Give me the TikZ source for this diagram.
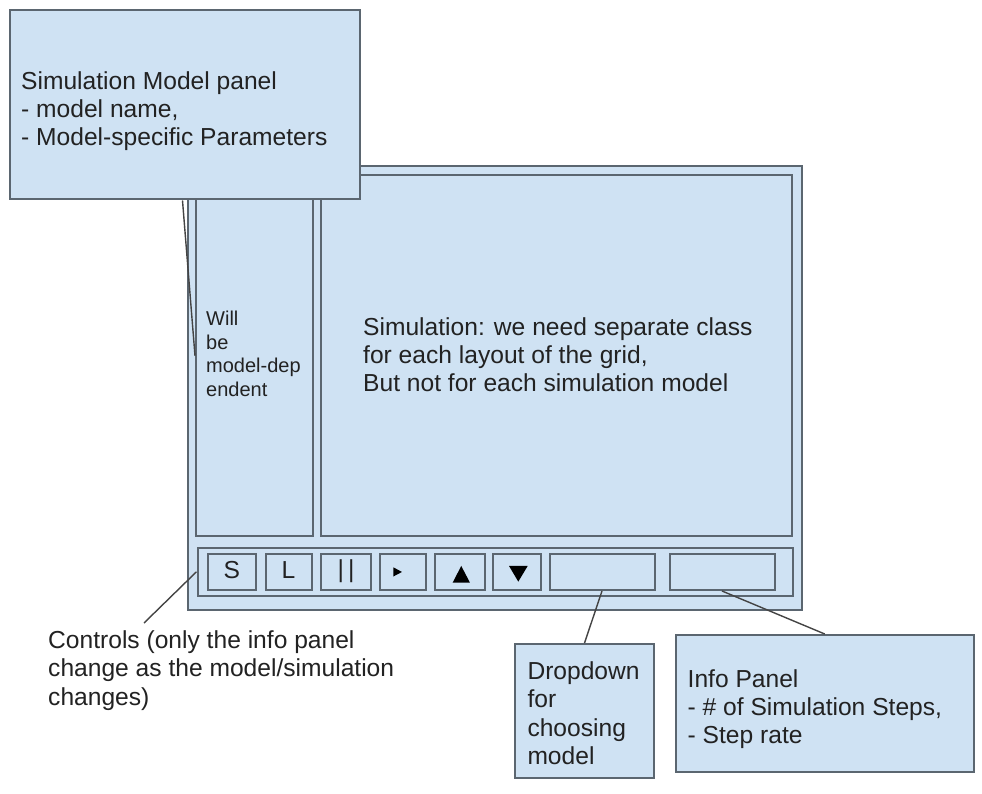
\documentclass[tikz,border=0pt]{standalone}
\usepackage{fontspec}
\setmainfont{Liberation Sans}
\definecolor{boxfill}{HTML}{CFE2F3}
\definecolor{boxline}{HTML}{5B6670}
\definecolor{txt}{HTML}{222222}
\definecolor{connline}{HTML}{444444}
\begin{document}
\begin{tikzpicture}[x=1pt,y=-1pt,
  panel/.style={draw=boxline, fill=boxfill, line width=2pt, inner sep=0pt, anchor=north west},
  conn/.style={draw=connline, line width=1.4pt},
  lbl/.style={anchor=north west, inner sep=0pt, align=left, text=txt, font=\fontsize{24.6}{28.3}\selectfont},
  smalllbl/.style={anchor=north west, inner sep=0pt, align=left, text=txt, font=\fontsize{20}{23.6}\selectfont},
  btnlbl/.style={inner sep=0pt, text=txt, font=\fontsize{24.6}{28.3}\selectfont},
  glyph/.style={fill=black}
]
\useasboundingbox (0,0) rectangle (982,794);
\fill[white] (0,0) rectangle (982,794);

% main window
\node[panel, minimum width=614.5pt, minimum height=444pt] (frame) at (186.5,165) {};
\node[panel, minimum width=116.5pt, minimum height=360.5pt] (side) at (195,174.5) {};
\node[panel, minimum width=471pt, minimum height=360.5pt] (sim) at (320,174.5) {};
\node[panel, minimum width=595pt, minimum height=48.5pt] (bar) at (196.5,546.5) {};

% buttons
\node[panel, minimum width=48.5pt, minimum height=36.5pt] (bS) at (206.5,552.5) {};
\node[panel, minimum width=46pt, minimum height=36.5pt] (bL) at (264.5,552.5) {};
\node[panel, minimum width=50pt, minimum height=36.5pt] (bpause) at (320,552.5) {};
\node[panel, minimum width=46.5pt, minimum height=36.5pt] (bplay) at (378.5,552.5) {};
\node[panel, minimum width=49.5pt, minimum height=36.5pt] (bup) at (434,552.5) {};
\node[panel, minimum width=48pt, minimum height=36.5pt] (bdown) at (491.5,552.5) {};
\node[panel, minimum width=105pt, minimum height=36pt] (dd) at (548.5,553) {};
\node[panel, minimum width=105pt, minimum height=36pt] (info) at (668.5,553) {};

\node[btnlbl] (tS) at ([yshift=1.5]bS.center) {S};
\node[btnlbl] (tL) at ([yshift=1.5]bL.center) {L};
\node[btnlbl] (tpause) at ([yshift=1]bpause.center) {|\,|};
\fill[glyph] ([shift={(-9.5,-4.5)}]bplay.center) -- ([shift={(-9.5,4.8)}]bplay.center) -- ([shift={(-0.8,0.2)}]bplay.center) -- cycle;
\fill[glyph] ([shift={(-7.1,10.9)}]bup.center) -- ([shift={(10.2,10.9)}]bup.center) -- ([shift={(1.5,-5.8)}]bup.center) -- cycle;
\fill[glyph] ([shift={(-7.5,-5.8)}]bdown.center) -- ([shift={(11.2,-5.8)}]bdown.center) -- ([shift={(1.8,9.9)}]bdown.center) -- cycle;

% texts in window
\node[smalllbl] (tside) at (206,311) {Will\\be\\model-dep\\endent};
\node[lbl] (tsim) at (363,317) {Simulation: we need separate class\\for each layout of the grid,\\But not for each simulation model};

% simulation model panel note
\node[panel, minimum width=350pt, minimum height=189.5pt] (smp) at (9,9) {};
\node[lbl] (tsmp) at (21,71.3) {Simulation Model panel\\- model name,\\- Model-specific Parameters};
\coordinate (smpfoot) at ([xshift=173.5]smp.south west);
\draw[conn] (smpfoot) -- (side.west);

% controls note
\node[lbl] (tctrl) at (48,630.5) {Controls (only the info panel\\change as the model/simulation\\changes)};
\coordinate (ctrlend) at (144,623);
\draw[conn] (bar.west) -- (ctrlend);

% dropdown note
\node[panel, minimum width=139pt, minimum height=134pt] (ddnote) at (514,643) {};
\node[lbl] (tdd) at (527.3,661.5) {Dropdown\\for\\choosing\\model};
\draw[conn] (dd.south) -- (ddnote.north);

% info note
\node[panel, minimum width=298.5pt, minimum height=137pt] (infonote) at (674.5,634) {};
\node[lbl] (tinfo) at (687.5,669) {Info Panel\\- \# of Simulation Steps,\\- Step rate};
\draw[conn] (info.south) -- (infonote.north);
\end{tikzpicture}
\end{document}
